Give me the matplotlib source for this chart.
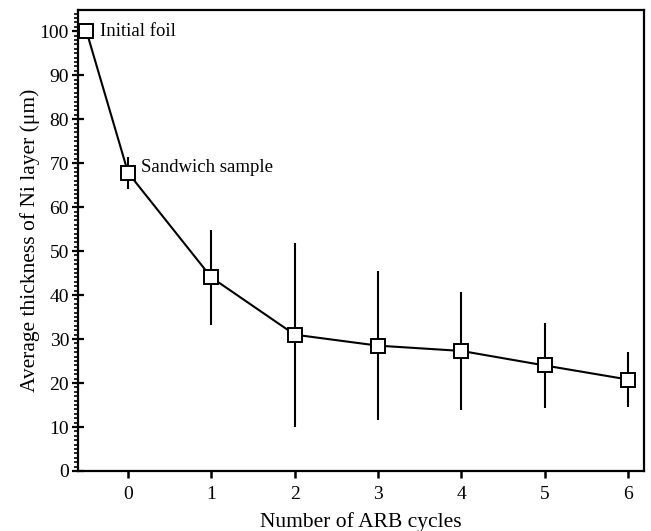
import numpy as np
import matplotlib
matplotlib.use('Agg')
from matplotlib import pyplot as plt
from matplotlib.ticker import MultipleLocator

# ARB cycle number (-0.5 is the initial foil), mean Ni layer thickness and spread
cycles = [-0.5, 0, 1, 2, 3, 4, 5, 6]
thickness = [100, 67.8, 44.0, 31.0, 28.5, 27.3, 24.0, 20.8]
spread = [0, 3.6, 10.8, 20.9, 16.9, 13.4, 9.7, 6.2]

plt.rcParams['font.family'] = ['Liberation Serif', 'DejaVu Serif']

fig = plt.figure(figsize=(6.51, 5.31), dpi=100)
ax = fig.add_axes([0.120, 0.113, 0.869, 0.868])

ax.errorbar(cycles, thickness, yerr=spread, color='black', lw=1.5,
	elinewidth=1.5, capsize=0, marker='s', markersize=10,
	markerfacecolor='white', markeredgecolor='black', markeredgewidth=1.4,
	zorder=3)

ax.text(-0.34, 100, 'Initial foil', fontsize=13.5, va='center', ha='left')
ax.text(0.16, 69, 'Sandwich sample', fontsize=13.5, va='center', ha='left')

ax.set_xlim(-0.6, 6.19)
ax.set_ylim(0, 104.8)
ax.set_xticks(range(0, 7))
ax.yaxis.set_major_locator(MultipleLocator(10))
ax.yaxis.set_minor_locator(MultipleLocator(1))
ax.tick_params(axis='x', direction='out', length=5, width=1.8, labelsize=14, pad=6)
ax.tick_params(axis='y', which='major', direction='inout', length=9, width=1.6, labelsize=14, pad=2)
ax.tick_params(axis='y', which='minor', direction='out', length=3, width=1.2)
for sp in ax.spines.values():
	sp.set_linewidth(1.6)

ax.set_xlabel('Number of ARB cycles', fontsize=15.5, labelpad=6)
ax.set_ylabel('Average thickness of Ni layer (μm)', fontsize=15.5, labelpad=0)

fig.savefig('out.png', dpi=100)
